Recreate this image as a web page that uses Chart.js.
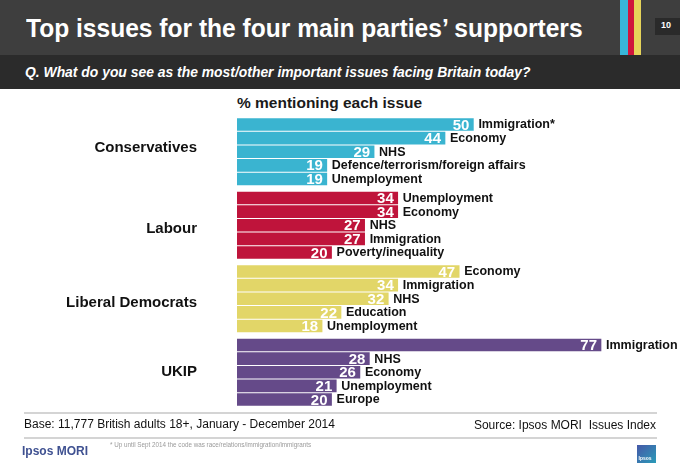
<!DOCTYPE html>
<html>
<head>
<meta charset="utf-8">
<script src="https://cdn.jsdelivr.net/npm/chart.js@4/dist/chart.umd.min.js"></script>
<style>
  body { margin: 0; background: #fff; font-family: "Liberation Sans", Arial, sans-serif; }
  #page { position: relative; width: 680px; height: 471px; overflow: hidden; }
  #chart { position: absolute; left: 0; top: 0; }
  .t { position: absolute; white-space: nowrap; }
  .band { position: absolute; left: 0; width: 680px; }
  .line { position: absolute; left: 24px; width: 633px; height: 1.5px; background: #d4d4d4; }
</style>
</head>
<body>
<div id="page">
  <div class="band" style="top:0;height:55px;background:#3e3e3e"></div>
  <div class="band" style="top:55px;height:34px;background:#2b2b2b"></div>
  <div style="position:absolute;left:620px;top:0;width:8px;height:55px;background:#38b6d8"></div>
  <div style="position:absolute;left:628px;top:0;width:6px;height:55px;background:#cf163c"></div>
  <div style="position:absolute;left:634px;top:0;width:7px;height:55px;background:#e6d45a"></div>
  <div style="position:absolute;left:655px;top:18px;width:25px;height:17px;background:#2a2a2a"></div>
  <div class="t" style="left:661px;top:21px;font-size:9px;line-height:9px;font-weight:bold;color:#fff">10</div>

  <div class="t" style="left:26px;top:15.3px;font-size:26px;line-height:26px;font-weight:bold;color:#fff;transform:scaleX(0.945);transform-origin:left">Top issues for the four main parties’ supporters</div>
  <div class="t" style="left:25px;top:66px;font-size:13.9px;line-height:13.9px;font-weight:bold;font-style:italic;color:#fff">Q. What do you see as the most/other important issues facing Britain today?</div>
  <div class="t" style="left:237px;top:95.2px;font-size:15.5px;line-height:15.5px;font-weight:bold;color:#1a1a1a">% mentioning each issue</div>

  <canvas id="chart" width="680" height="471"></canvas>

  <div class="line" style="top:412px"></div>
  <div class="t" style="left:24px;top:417.8px;font-size:12px;line-height:12px;color:#111">Base: 11,777 British adults 18+, January - December 2014</div>
  <div class="t" style="right:24px;top:419px;font-size:12px;line-height:12px;color:#111">Source: Ipsos MORI&nbsp; Issues Index</div>
  <div class="line" style="top:437px"></div>
  <div class="t" style="left:22px;top:444.8px;font-size:12px;line-height:12px;font-weight:bold;color:#3f5191">Ipsos MORI</div>
  <div class="t" style="left:110px;top:442px;font-size:6.3px;line-height:6.3px;color:#9a9a9a">* Up until Sept 2014 the code was race/relations/immigration/immigrants</div>
  <div style="position:absolute;left:637px;top:445px;width:19px;height:18px;background:linear-gradient(135deg,#4658a8,#2a9bb8)"></div>
  <div class="t" style="left:638.5px;top:456px;font-size:5px;line-height:5px;font-weight:bold;color:#fff">Ipsos</div>
</div>

<script>
// DATA
const parties = ['Conservatives', 'Labour', 'Liberal Democrats', 'UKIP'];
const partyColours = ['#3ab4d0', '#bf143b', '#e2d668', '#654a89'];

const conIssues = ['Immigration*', 'Economy', 'NHS', 'Defence/terrorism/foreign affairs', 'Unemployment'];
const conValues = [50, 44, 29, 19, 19];
const labIssues = ['Unemployment', 'Economy', 'NHS', 'Immigration', 'Poverty/inequality'];
const labValues = [34, 34, 27, 27, 20];
const ldIssues = ['Economy', 'Immigration', 'NHS', 'Education', 'Unemployment'];
const ldValues = [47, 34, 32, 22, 18];
const ukipIssues = ['Immigration', 'NHS', 'Economy', 'Unemployment', 'Europe'];
const ukipValues = [77, 28, 26, 21, 20];

const allIssues = [conIssues, labIssues, ldIssues, ukipIssues];
const allValues = [conValues, labValues, ldValues, ukipValues];

// each group takes 5 rows plus a small gap
const groupStep = 5.4;
// party names don't sit exactly in the middle of their group on the slide
const partyLabelShift = [-3.5, 4, 4, 0];

// BUILD THE DATASET
const points = [];
const colours = [];
const labels = [];
allValues.forEach((vals, g) => {
    vals.forEach((v, i) => {
        points.push({ x: v, y: g * groupStep + i });
        colours.push(partyColours[g]);
        labels.push(allIssues[g][i]);
    });
});

// Labels drawn next to bars + party names on the left
const barLabels = {
    id: 'barLabels',
    afterDatasetsDraw(chart) {
        const ctx = chart.ctx;
        const meta = chart.getDatasetMeta(0);
        ctx.save();
        meta.data.forEach((bar, idx) => {
            ctx.textBaseline = 'middle';
            ctx.font = 'bold 15px "Liberation Sans", Arial, sans-serif';
            ctx.fillStyle = '#fff';
            ctx.textAlign = 'right';
            ctx.fillText(points[idx].x, bar.x - 4, bar.y + 1);

            ctx.font = 'bold 12.5px "Liberation Sans", Arial, sans-serif';
            ctx.fillStyle = '#111';
            ctx.textAlign = 'left';
            ctx.fillText(labels[idx], bar.x + 5, bar.y + 0.5);
        });

        const yScale = chart.scales.y;
        ctx.font = 'bold 15px "Liberation Sans", Arial, sans-serif';
        ctx.fillStyle = '#111';
        ctx.textAlign = 'right';
        parties.forEach((p, g) => {
            ctx.fillText(p, 197, yScale.getPixelForValue(g * groupStep + 2) + partyLabelShift[g]);
        });
        ctx.restore();
    }
};

const ctx = document.getElementById('chart').getContext('2d');
const chart = new Chart(ctx, {
    type: 'bar',
    data: {
        datasets: [{
            data: points,
            backgroundColor: colours,
            borderWidth: 0,
            barThickness: 12
        }]
    },
    options: {
        indexAxis: 'y',
        responsive: false,
        animation: false,
        layout: { padding: { left: 237, right: 64.8, top: 117.7, bottom: 64.7 } },
        scales: {
            x: { type: 'linear', min: 0, max: 80, display: false },
            y: { type: 'linear', min: -0.5, max: 3 * groupStep + 4.5, reverse: true, offset: false, display: false }
        },
        plugins: {
            legend: { display: false },
            tooltip: { enabled: false }
        }
    },
    plugins: [barLabels]
});
</script>
</body>
</html>
